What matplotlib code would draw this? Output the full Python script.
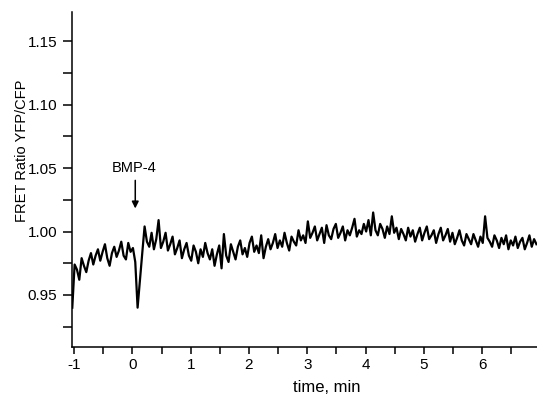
import numpy as np
import matplotlib
matplotlib.use('Agg')
import matplotlib.pyplot as plt
from matplotlib.ticker import MultipleLocator

plt.rcParams['font.family'] = ['Liberation Sans', 'DejaVu Sans']

# Sampling of the trace (min)
t_start = -1.03
dt = 0.04

# FRET ratio, one value per sample
ratio = [
    0.940, 0.974, 0.970, 0.962, 0.979, 0.973, 0.968, 0.977, 0.983, 0.974,
    0.981, 0.986, 0.977, 0.984, 0.990, 0.979, 0.973, 0.983, 0.988, 0.980,
    0.985, 0.992, 0.981, 0.978, 0.991, 0.984, 0.987, 0.976, 0.940, 0.962,
    0.983, 1.004, 0.992, 0.988, 0.999, 0.986, 0.994, 1.009, 0.987, 0.992,
    0.999, 0.985, 0.990, 0.996, 0.982, 0.987, 0.993, 0.979, 0.986, 0.991,
    0.981, 0.977, 0.989, 0.984, 0.975, 0.986, 0.980, 0.991, 0.983, 0.978,
    0.986, 0.973, 0.982, 0.989, 0.971, 0.998, 0.981, 0.976, 0.990, 0.984,
    0.978, 0.988, 0.993, 0.982, 0.987, 0.980, 0.991, 0.996, 0.984, 0.989,
    0.983, 0.997, 0.979, 0.988, 0.994, 0.986, 0.991, 0.998, 0.987, 0.993,
    0.988, 0.999, 0.991, 0.985, 0.996, 0.992, 0.989, 1.001, 0.993, 0.997,
    0.991, 1.008, 0.995, 0.999, 1.004, 0.993, 0.998, 1.003, 0.991, 1.005,
    0.997, 0.994, 1.002, 1.006, 0.995, 0.999, 1.004, 0.993, 1.001, 0.997,
    1.003, 1.010, 0.996, 1.001, 0.998, 1.006, 1.000, 1.009, 0.997, 1.015,
    1.001, 0.997, 1.006, 1.002, 0.995, 1.004, 0.998, 1.012, 0.999, 1.003,
    0.994, 1.002, 0.998, 0.993, 1.003, 0.996, 1.001, 0.992, 0.998, 1.003,
    0.993, 0.999, 1.004, 0.994, 0.997, 1.001, 0.991, 0.998, 1.003, 0.993,
    0.997, 1.002, 0.992, 0.999, 0.990, 0.995, 1.001, 0.993, 0.989, 0.998,
    0.994, 0.990, 0.998, 0.993, 0.988, 0.996, 0.991, 1.012, 0.995, 0.992,
    0.988, 0.997, 0.993, 0.987, 0.995, 0.990, 0.997, 0.986, 0.993, 0.989,
    0.996, 0.987, 0.992, 0.995, 0.986, 0.991, 0.997, 0.988, 0.994, 0.990,
]
time = t_start + dt * np.arange(len(ratio))

# Stimulus marker
stim_label = 'BMP-4'
stim_time = 0.05

fig = plt.figure(figsize=(5.37, 3.96), dpi=100)
ax = fig.add_axes([72 / 537, 49 / 396, 465 / 537, 335 / 396])

ax.plot(time, ratio, color='black', linewidth=1.6)

ax.set_xlim(-1.035, 6.94)
ax.set_ylim(0.909, 1.173)

# Axis styling
for side in ('top', 'right'):
    ax.spines[side].set_visible(False)
for side in ('left', 'bottom'):
    ax.spines[side].set_linewidth(1.1)

ax.xaxis.set_major_locator(MultipleLocator(1))
ax.xaxis.set_minor_locator(MultipleLocator(0.5))
ax.yaxis.set_major_locator(MultipleLocator(0.05))
ax.yaxis.set_minor_locator(MultipleLocator(0.025))
ax.tick_params(axis='x', which='both', direction='out', length=5, width=1.1,
               labelsize=11, pad=3)
ax.tick_params(axis='y', which='both', direction='out', length=6.5, width=1.1,
               labelsize=11, pad=4)
ax.set_xticks([-1, 0, 1, 2, 3, 4, 5, 6])
ax.set_xticklabels(['-1', '0', '1', '2', '3', '4', '5', '6'])
ax.set_yticks([0.95, 1.00, 1.05, 1.10, 1.15])
ax.set_yticklabels(['0.95', '1.00', '1.05', '1.10', '1.15'])

# Labels placed where the original puts them
ax.text(-0.1075, 0.585, 'FRET Ratio YFP/CFP', transform=ax.transAxes,
        rotation=90, ha='center', va='center', fontsize=10.5)
ax.text(0.548, -0.122, 'time, min', transform=ax.transAxes,
        ha='center', va='center', fontsize=12)

# Stimulus annotation
ax.annotate('', xy=(stim_time, 1.016), xytext=(stim_time, 1.0425),
            arrowprops=dict(arrowstyle='-|>', color='black', lw=1.1,
                            mutation_scale=10))
ax.text(stim_time - 0.02, 1.050, stim_label, ha='center', va='center',
        fontsize=10.5)

fig.savefig('out.png', dpi=100)
